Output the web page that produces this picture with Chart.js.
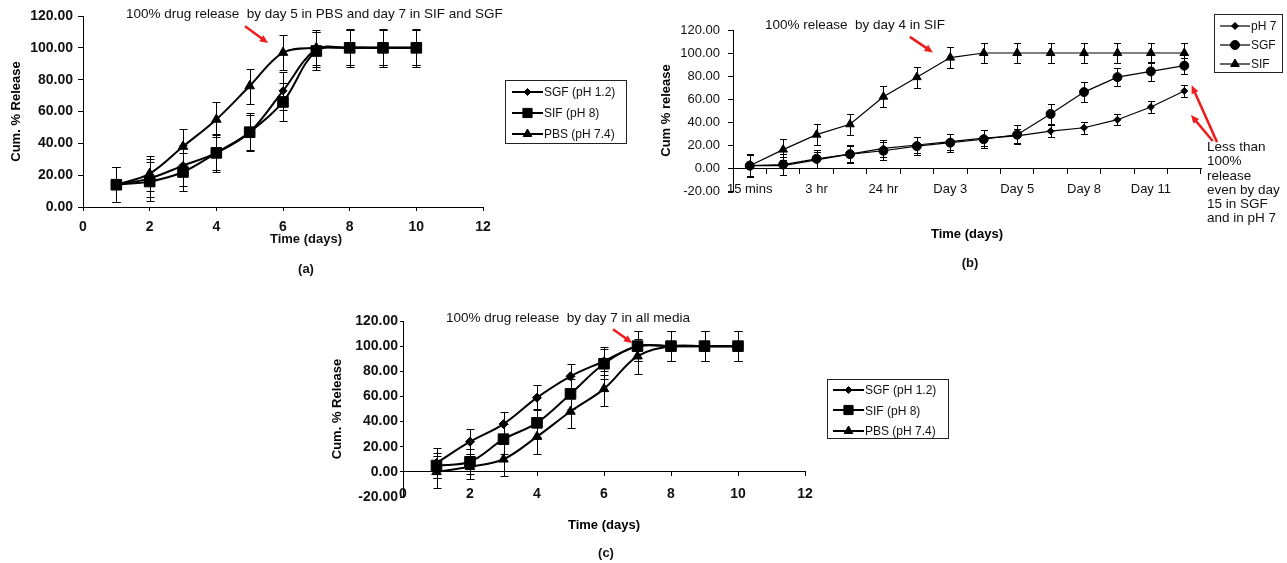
<!DOCTYPE html>
<html>
<head>
<meta charset="utf-8">
<title>Cumulative release</title>
<script src="https://cdn.jsdelivr.net/npm/chart.js@4.4.1/dist/chart.umd.min.js"></script>
<style>
  body { margin: 0; background: #fff; width: 1287px; height: 563px; position: relative; overflow: hidden;
         font-family: "Liberation Sans", Arial, sans-serif; color: #111; }
  .wrap { position: absolute; }
  canvas { display: block; }
  .note { position: absolute; font-size: 13.5px; white-space: pre; line-height: 14px; }
  .cap { position: absolute; font-weight: bold; font-size: 13px; transform: translateX(-50%); white-space: pre; }
  .legend { position: absolute; border: 1px solid #222; background: #fff; box-sizing: border-box; font-size: 12px; }
  .lrow { display: flex; align-items: center; }
  .lrow canvas { margin-right: 1px; }
</style>
</head>
<body>

<div class="wrap" style="left:0;top:0"><canvas id="chartA" width="500" height="250"></canvas></div>
<div class="wrap" style="left:620px;top:0"><canvas id="chartB" width="667" height="260"></canvas></div>
<div class="wrap" style="left:320px;top:300px"><canvas id="chartC" width="680" height="263"></canvas></div>

<!-- notes written on the figure -->
<div class="note" style="left:126px;top:7px">100% drug release  by day 5 in PBS and day 7 in SIF and SGF</div>
<div class="note" style="left:765px;top:18px">100% release  by day 4 in SIF</div>
<div class="note" style="left:446px;top:311px">100% drug release  by day 7 in all media</div>
<div class="note" style="left:1207px;top:140px;line-height:14.3px">Less than
100%
release
even by day
15 in SGF
and in pH 7</div>

<div class="cap" style="left:306px;top:231px">Time (days)</div>
<div class="cap" style="left:306px;top:261px">(a)</div>
<div class="cap" style="left:970px;top:255px">(b)</div>
<div class="cap" style="left:606px;top:545px">(c)</div>

<div class="legend" id="legendA" style="left:505px;top:80px;width:122px;height:64px;padding-left:6px"></div>
<div class="legend" id="legendB" style="left:1214px;top:14px;width:69px;height:59px;padding-left:5px;padding-top:1px"></div>
<div class="legend" id="legendC" style="left:827px;top:379px;width:122px;height:60px;padding-left:5px"></div>

<script>
// ---------- data ----------
// (a)
const daysA = [1, 2, 3, 4, 5, 6, 7, 8, 9, 10];
const sgfA = [14, 18, 26, 34, 47, 73, 99, 100, 100, 100];
const sifA = [14, 16, 22, 34, 47, 66, 98, 100, 100, 100];
const pbsA = [14, 21, 38, 55, 76, 97, 100, 100, 100, 100];
const sgfErrA = [11, 12, 13, 11, 11, 12, 11, 11, 11, 11];
const sifErrA = [11, 12, 12, 12, 12, 12, 12, 12, 12, 12];
const pbsErrA = [11, 11, 11, 11, 11, 11, 11, 11, 11, 11];

// (b)
const timeB = ["15 mins", "1 hr", "3 hr", "6 hr", "24 hr", "Day 2", "Day 3", "Day 4",
               "Day 5", "Day 7", "Day 8", "Day 10", "Day 11", "Day 15"];
const ph7B = [2, 2, 7, 12, 17, 20, 23, 26, 28, 32, 35, 42, 53, 67];
const sgfB = [2, 3, 8, 12, 15, 19, 22, 25, 29, 47, 66, 79, 84, 89];
const sifB = [2, 16, 29, 38, 62, 79, 96, 100, 100, 100, 100, 100, 100, 100];
const ph7ErrB = [9, 8, 7, 7, 7, 7, 7, 7, 6, 5, 5, 5, 5, 5];
const sgfErrB = [10, 9, 8, 8, 8, 8, 8, 8, 8, 9, 9, 8, 8, 7];
const sifErrB = [9, 9, 9, 9, 9, 9, 9, 9, 9, 9, 9, 9, 9, 9];

// (c)
const daysC = [1, 2, 3, 4, 5, 6, 7, 8, 9, 10];
const sgfC = [7, 24, 38, 59, 76, 88, 100, 100, 100, 100];
const sifC = [5, 8, 26, 39, 62, 86, 100, 100, 100, 100];
const pbsC = [0, 4, 10, 28, 48, 66, 92, 100, 100, 100];
const sgfErrC = [12, 10, 10, 10, 10, 11, 12, 12, 12, 12];
const sifErrC = [10, 10, 12, 11, 12, 12, 12, 12, 12, 12];
const pbsErrC = [13, 10, 13, 14, 13, 14, 14, 12, 12, 12];

// axis ticks
const xTicksAC = [0, 2, 4, 6, 8, 10, 12];
const yTicksA = [0, 20, 40, 60, 80, 100, 120];
const yTicksBC = [-20, 0, 20, 40, 60, 80, 100, 120];

const FONT = "'Liberation Sans', Arial, sans-serif";
Chart.defaults.font.family = FONT;
Chart.defaults.color = '#111';

// vertical error bars with caps
const errorBars = {
  id: 'errorBars',
  afterDatasetsDraw(chart, args, opts) {
    const { ctx } = chart;
    const ys = chart.scales.y;
    const cap = opts.cap || 4;
    ctx.save();
    ctx.strokeStyle = '#000';
    ctx.lineWidth = 1;
    chart.data.datasets.forEach((ds, i) => {
      if (!ds.errors) return;
      chart.getDatasetMeta(i).data.forEach((pt, j) => {
        const raw = ds.data[j];
        const v = typeof raw === 'object' ? raw.y : raw;
        const e = ds.errors[j];
        const top = Math.round(ys.getPixelForValue(v + e)) + 0.5;
        const bot = Math.round(ys.getPixelForValue(v - e)) + 0.5;
        const x = Math.round(pt.x) + 0.5;
        ctx.beginPath();
        ctx.moveTo(x, top); ctx.lineTo(x, bot);
        ctx.moveTo(x - cap, top); ctx.lineTo(x + cap, top);
        ctx.moveTo(x - cap, bot); ctx.lineTo(x + cap, bot);
        ctx.stroke();
      });
    });
    ctx.restore();
  }
};

// red pointer arrows, placed in data units
const arrows = {
  id: 'arrows',
  afterDraw(chart, args, opts) {
    const items = opts.items || [];
    const { ctx, scales: { x, y } } = chart;
    items.forEach(a => {
      const x1 = x.getPixelForValue(a.from[0]), y1 = y.getPixelForValue(a.from[1]);
      const x2 = x.getPixelForValue(a.to[0]), y2 = y.getPixelForValue(a.to[1]);
      const ang = Math.atan2(y2 - y1, x2 - x1);
      const head = 9;
      ctx.save();
      ctx.strokeStyle = ctx.fillStyle = '#ee1c1c';
      ctx.lineWidth = 2.5;
      ctx.beginPath();
      ctx.moveTo(x1, y1);
      ctx.lineTo(x2 - head * 0.7 * Math.cos(ang), y2 - head * 0.7 * Math.sin(ang));
      ctx.stroke();
      ctx.beginPath();
      ctx.moveTo(x2, y2);
      ctx.lineTo(x2 - head * Math.cos(ang - 0.42), y2 - head * Math.sin(ang - 0.42));
      ctx.lineTo(x2 - head * Math.cos(ang + 0.42), y2 - head * Math.sin(ang + 0.42));
      ctx.closePath();
      ctx.fill();
      ctx.restore();
    });
  }
};

function series(label, xs, ys, errs, style, radius, legendRadius, width, tension) {
  return {
    label,
    data: xs ? xs.map((x, i) => ({ x, y: ys[i] })) : ys,
    errors: errs,
    borderColor: '#000', backgroundColor: '#000', borderWidth: width,
    pointStyle: style, pointRadius: radius, pointHoverRadius: radius,
    pointBackgroundColor: '#000', pointBorderColor: '#000', pointBorderWidth: 1,
    legendRadius, tension, fill: false, clip: false
  };
}

function yAxis(ticks, o) {
  return {
    min: ticks[0], max: ticks[ticks.length - 1],
    ticks: { stepSize: ticks[1] - ticks[0], font: o.font, padding: o.pad, color: '#111',
             callback: v => Number(v).toFixed(2) },
    grid: { drawOnChartArea: false, drawTicks: true, tickLength: o.len, color: '#000' },
    border: { display: true, color: '#000', width: 1 },
    title: { display: true, text: o.title, color: '#000', padding: 0,
             font: { family: FONT, size: 13, weight: 'bold' } },
    afterFit: s => { s.width = o.width; }
  };
}

function xLinear(o) {
  return {
    type: 'linear', position: o.position,
    min: xTicksAC[0], max: xTicksAC[xTicksAC.length - 1],
    ticks: { stepSize: xTicksAC[1] - xTicksAC[0], font: o.font, padding: o.pad, color: '#111', maxRotation: 0 },
    grid: { drawOnChartArea: false, drawTicks: true, tickLength: o.len, color: '#000' },
    border: { display: true, color: '#000', width: 1 },
    title: { display: !!o.title, text: o.title || '', color: '#000', padding: 0,
             font: { family: FONT, size: 13, weight: 'bold' } },
    afterFit: s => { s.height = o.height; }
  };
}

const boldTick = { family: FONT, size: 14, weight: 'bold' };
const common = { responsive: false, animation: false, events: [] };

// ---------- (a) ----------
const chartA = new Chart(document.getElementById('chartA'), {
  type: 'line',
  data: { datasets: [
    series('SGF (pH 1.2)', daysA, sgfA, sgfErrA, 'rectRot', 4, 3.5, 2, 0.35),
    series('SIF (pH 8)', daysA, sifA, sifErrA, 'rect', 7.5, 6.5, 2, 0.35),
    series('PBS (pH 7.4)', daysA, pbsA, pbsErrA, 'triangle', 5.5, 5, 2, 0.35)
  ] },
  options: Object.assign({}, common, {
    layout: { padding: { left: 9, right: 17, top: 16, bottom: 3 } },
    scales: {
      x: xLinear({ position: 'bottom', font: boldTick, pad: 8, len: 4, height: 40 }),
      y: yAxis(yTicksA, { title: 'Cum. % Release', font: boldTick, pad: 5, len: 5, width: 74 })
    },
    plugins: {
      legend: { display: false }, tooltip: { enabled: false },
      errorBars: { cap: 4 },
      arrows: { items: [{ from: [4.86, 113.5], to: [5.55, 103] }] }
    }
  }),
  plugins: [errorBars, arrows]
});

// ---------- (b) ----------
const chartB = new Chart(document.getElementById('chartB'), {
  type: 'line',
  data: { labels: timeB, datasets: [
    series('pH 7', null, ph7B, ph7ErrB, 'rectRot', 3.5, 3.5, 1.2, 0),
    series('SGF', null, sgfB, sgfErrB, 'circle', 4.5, 4.5, 1.2, 0),
    series('SIF', null, sifB, sifErrB, 'triangle', 5, 5, 1.2, 0)
  ] },
  options: Object.assign({}, common, {
    layout: { padding: { left: 39, right: 86, top: 30, bottom: 69 } },
    scales: {
      x: {
        type: 'category', position: { y: 0 }, offset: true,
        ticks: { autoSkip: false, maxRotation: 0, padding: 9, color: '#111',
                 font: { family: FONT, size: 13 },
                 callback: (v, i) => (i % 2 === 0 ? timeB[i] : '') },
        grid: { offset: true, drawOnChartArea: false, drawTicks: true, tickLength: 5, color: '#000' },
        border: { display: true, color: '#000', width: 1 },
        title: { display: true, text: 'Time (days)', color: '#000', padding: 0,
                 font: { family: FONT, size: 13, weight: 'bold' } },
        afterFit: s => { s.height = 74; }
      },
      y: yAxis(yTicksBC, { title: 'Cum % release', font: { family: FONT, size: 13 }, pad: 8, len: 5, width: 74 })
    },
    plugins: {
      legend: { display: false }, tooltip: { enabled: false },
      errorBars: { cap: 3.5 },
      arrows: { items: [
        { from: [4.79, 114], to: [5.48, 100.5] },
        { from: [13.98, 22.5], to: [13.22, 72] },
        { from: [13.85, 23.5], to: [13.2, 46] }
      ] }
    }
  }),
  plugins: [errorBars, arrows]
});

// ---------- (c) ----------
const chartC = new Chart(document.getElementById('chartC'), {
  type: 'line',
  data: { datasets: [
    series('SGF (pH 1.2)', daysC, sgfC, sgfErrC, 'rectRot', 4.5, 3.5, 2, 0.35),
    series('SIF (pH 8)', daysC, sifC, sifErrC, 'rect', 7.5, 6.5, 2, 0.35),
    series('PBS (pH 7.4)', daysC, pbsC, pbsErrC, 'triangle', 5.5, 5, 2, 0.35)
  ] },
  options: Object.assign({}, common, {
    layout: { padding: { left: 10, right: 195, top: 21, bottom: 66 } },
    scales: {
      x: xLinear({ position: { y: 0 }, font: boldTick, pad: 10, len: 4, height: 61, title: 'Time (days)' }),
      y: yAxis(yTicksBC, { title: 'Cum. % Release', font: boldTick, pad: 2, len: 3, width: 73 })
    },
    plugins: {
      legend: { display: false }, tooltip: { enabled: false },
      errorBars: { cap: 4 },
      arrows: { items: [{ from: [6.27, 113.5], to: [6.84, 102.5] }] }
    }
  }),
  plugins: [errorBars, arrows]
});

// legends: line with its marker, as in the source figure
function buildLegend(id, chart, rowH, iconW) {
  const box = document.getElementById(id);
  chart.data.datasets.forEach(ds => {
    const row = document.createElement('div');
    row.className = 'lrow';
    row.style.height = rowH + 'px';
    const icon = document.createElement('canvas');
    icon.width = iconW; icon.height = Math.ceil(rowH);
    const ctx = icon.getContext('2d');
    const mid = Math.round(rowH / 2);
    ctx.strokeStyle = '#000'; ctx.fillStyle = '#000';
    ctx.lineWidth = ds.borderWidth;
    ctx.beginPath(); ctx.moveTo(0, mid); ctx.lineTo(iconW, mid); ctx.stroke();
    ctx.lineWidth = 1;
    Chart.helpers.drawPoint(ctx, { pointStyle: ds.pointStyle, radius: ds.legendRadius, borderWidth: 1, rotation: 0 },
      iconW / 2, mid);
    const label = document.createElement('span');
    label.textContent = ds.label;
    row.append(icon, label);
    box.appendChild(row);
  });
}

buildLegend('legendA', chartA, 21, 31);
buildLegend('legendB', chartB, 19, 30);
buildLegend('legendC', chartC, 20.5, 31);
</script>
</body>
</html>
